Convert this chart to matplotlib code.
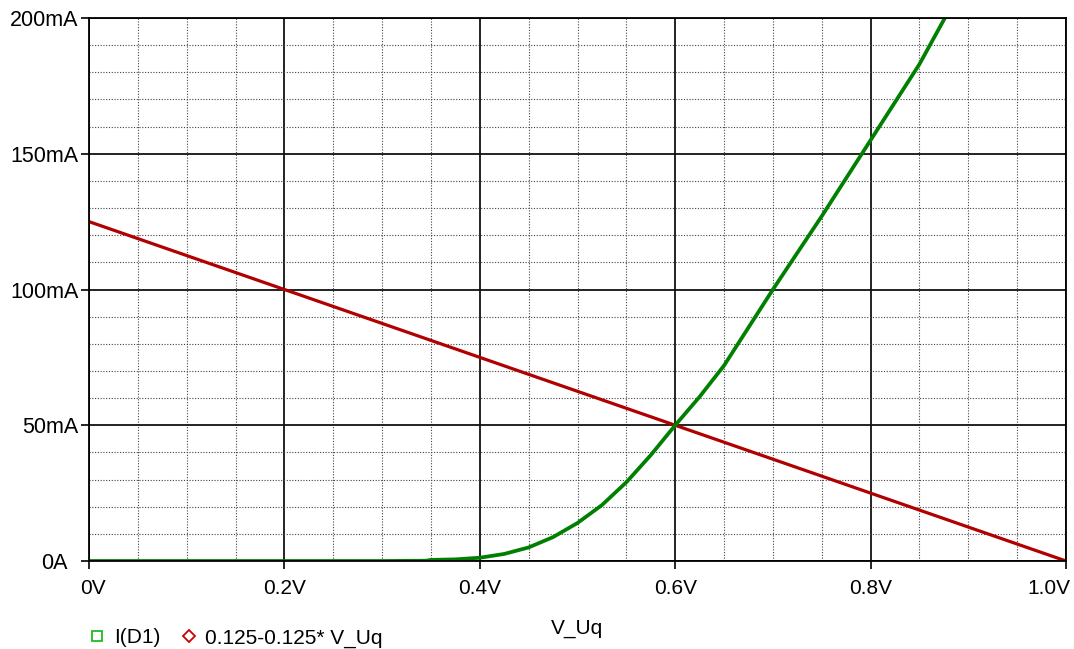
#!/usr/bin/env python3
"""
Diode operating point - diode current vs. source voltage with the load line
"""

import numpy as np
import matplotlib.pyplot as plt
from matplotlib.lines import Line2D
from matplotlib.ticker import MultipleLocator
from matplotlib.transforms import ScaledTranslation

plt.rcParams['font.family'] = ['Liberation Sans', 'DejaVu Sans']

# Sweep voltage V_Uq (V) and simulated diode current I(D1) (mA)
v_diode = [0.0, 0.1, 0.2, 0.3, 0.345, 0.35, 0.375, 0.4, 0.425, 0.45, 0.475,
           0.5, 0.525, 0.55, 0.575, 0.6, 0.625, 0.65, 0.7, 0.75, 0.8, 0.85, 0.876]
i_diode = [0.0, 0.0, 0.0, 0.0, 0.1, 0.4, 0.6, 1.2, 2.6, 5.0, 8.8,
           14.0, 20.6, 29.0, 39.0, 50.0, 60.5, 72.0, 100.0, 127.0, 155.0, 183.0, 200.0]

# Load line 0.125 - 0.125 * V_Uq (A)
v_load = [0.0, 0.2, 0.4, 0.6, 0.8, 1.0]
i_load = [(0.125 - 0.125 * v) * 1000 for v in v_load]

x_ticks = [0.0, 0.2, 0.4, 0.6, 0.8, 1.0]
x_labels = ['0V', '0.2V', '0.4V', '0.6V', '0.8V', '1.0V']
y_ticks = [0, 50, 100, 150, 200]
y_labels = ['0A', '50mA', '100mA', '150mA', '200mA']

GREEN = '#008000'
RED = '#b00000'

fig = plt.figure(figsize=(10.74, 6.49), dpi=100)
ax = fig.add_axes([89 / 1074, 88 / 649, 977 / 1074, 543 / 649])

ax.set_xlim(0, 1.0)
ax.set_ylim(0, 200)

# grid: solid major lines, dotted minor lines
ax.xaxis.set_minor_locator(MultipleLocator(0.05))
ax.yaxis.set_minor_locator(MultipleLocator(10))
ax.grid(which='major', color='#111111', linewidth=1.3, linestyle='-')
ax.grid(which='minor', color='#444444', linewidth=0.8, linestyle=(0, (1, 1.5)))
ax.set_axisbelow(True)

for side in ax.spines.values():
    side.set_color('black')
    side.set_linewidth(1.3)

ax.plot(v_load, i_load, color=RED, linewidth=2.3, solid_capstyle='butt')
ax.plot(v_diode, i_diode, color=GREEN, linewidth=2.7, solid_capstyle='butt')

ax.set_xticks(x_ticks)
ax.set_xticklabels(x_labels)
ax.set_yticks(y_ticks)
ax.set_yticklabels(y_labels)
ax.tick_params(which='minor', length=0)
ax.tick_params(axis='x', which='major', length=6, width=1.2, pad=7, labelsize=15)
ax.tick_params(axis='y', which='major', length=6, width=1.2, pad=1.5, labelsize=15.5)

# first and last x labels sit inside the axis range, 0A sits closer to the tick
xl = ax.get_xticklabels()
xl[0].set_transform(xl[0].get_transform() + ScaledTranslation(4 / 100, 0, fig.dpi_scale_trans))
xl[-1].set_horizontalalignment('right')
xl[-1].set_transform(xl[-1].get_transform() + ScaledTranslation(4 / 100, 0, fig.dpi_scale_trans))
yl = ax.get_yticklabels()
yl[0].set_transform(yl[0].get_transform() + ScaledTranslation(-11 / 100, 0, fig.dpi_scale_trans))

ax.set_xlabel('V_Uq', fontsize=15, labelpad=15)

handles = [
    Line2D([], [], linestyle='none', marker='s', markersize=7, markerfacecolor='none',
           markeredgecolor='#22bb22', markeredgewidth=1.3),
    Line2D([], [], linestyle='none', marker='D', markersize=6, markerfacecolor='none',
           markeredgecolor='#cc0000', markeredgewidth=1.3),
]
fig.legend(handles, ['I(D1)', '0.125-0.125* V_Uq'], loc='center left',
           bbox_to_anchor=(87 / 1074, 1 - 638 / 649), ncol=2, frameon=False,
           fontsize=15, handlelength=1.0, handletextpad=0.3, columnspacing=0.85,
           borderaxespad=0, borderpad=0)

fig.savefig('out.png', dpi=100)
